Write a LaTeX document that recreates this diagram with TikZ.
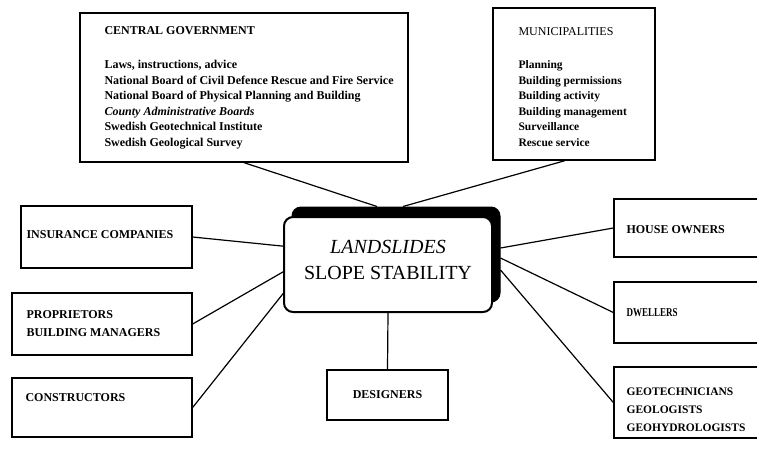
\documentclass[tikz,border=0pt]{standalone}
\usepackage{fontspec}
\setmainfont{Liberation Serif}
\begin{document}
\begin{tikzpicture}[x=1pt,y=-1pt,
  box/.style={draw, line width=1.3pt, rectangle, inner sep=0pt},
  conn/.style={line width=1.2pt},
  lbl/.style={font=\fontsize{12}{18}\selectfont\bfseries, align=left, anchor=west, inner sep=0pt},
  lst/.style={font=\fontsize{11.5}{15.5}\selectfont\bfseries, align=left, anchor=west, inner sep=0pt}]
\useasboundingbox (0,0) rectangle (757,448);
\begin{scope}
\clip (0,0) rectangle (757,448);
% boxes
\node[box, minimum width=328pt, minimum height=149pt] (cg) at (244,87.5) {};
\node[box, minimum width=162pt, minimum height=152pt] (muni) at (574,84) {};
\node[box, minimum width=171pt, minimum height=62pt] (ins) at (106.5,237) {};
\node[box, minimum width=180pt, minimum height=62pt] (prop) at (102,324) {};
\node[box, minimum width=180pt, minimum height=59pt] (cons) at (102,407.5) {};
\node[box, minimum width=121pt, minimum height=50pt, font=\fontsize{12}{14}\selectfont\bfseries] (des) at (387.5,395) {DESIGNERS};
\node[box, minimum width=176pt, minimum height=58pt] (ho) at (702,228) {};
\node[box, minimum width=176pt, minimum height=61pt] (dw) at (702,312.5) {};
\node[box, minimum width=176pt, minimum height=71pt] (geo) at (702,402.5) {};
\node[draw, fill=black, line width=1pt, rounded corners=9pt, minimum width=208pt, minimum height=95pt, inner sep=0pt] (censh) at (396,254.5) {};
% connectors
\draw[conn] (cg.south) -- ([xshift=-19pt]censh.north);
\draw[conn] ([xshift=-9pt]muni.south) -- ([xshift=7pt]censh.north);
\draw[conn] (ins.east) -- ([yshift=7.5pt]censh.west);
\draw[conn] (prop.east) -- ([yshift=-12.5pt]censh.west);
\draw[conn] (cons.east) -- ([yshift=-28.5pt]censh.west);
\draw[conn] ([yshift=6.5pt]censh.east) -- (ho.west);
\draw[conn] ([yshift=-3.5pt]censh.east) -- (dw.west);
\draw[conn] ([yshift=-15.5pt]censh.east) -- (geo.west);
% central box
\node[draw, fill=white, line width=2pt, rounded corners=9pt, minimum width=208pt, minimum height=95pt, inner sep=0pt] (cen) at (388,264.5) {};
\draw[conn] (cen.south) -- (des.north);
% texts
\node[lst, font=\fontsize{12}{15.5}\selectfont\bfseries] (cgtext) at ([xshift=25pt]cg.west) {CENTRAL GOVERNMENT\\[19pt]
Laws, instructions, advice\\
National Board of Civil Defence Rescue and Fire Service\\
National Board of Physical Planning and Building\\
\textit{County Administrative Boards}\\
Swedish Geotechnical Institute\\
Swedish Geological Survey};
\node[lst] (munitext) at ([xshift=26pt,yshift=-3pt]muni.west) {{\fontsize{12}{15.5}\selectfont\mdseries MUNICIPALITIES}\\[17.5pt]
Planning\\
Building permissions\\
Building activity\\
Building management\\
Surveillance\\
Rescue service};
\node[lbl] (instext) at ([xshift=6pt,yshift=2pt]ins.west) {INSURANCE COMPANIES};
\node[lbl] (proptext) at ([xshift=15pt]prop.west) {PROPRIETORS\\BUILDING MANAGERS};
\node[lbl] (constext) at ([xshift=14pt,yshift=9.5pt]cons.west) {CONSTRUCTORS};
\node[lbl] (hotext) at ([xshift=13pt,yshift=-2pt]ho.west) {HOUSE OWNERS};
\node[lbl] (dwtext) at ([xshift=13pt]dw.west) {\scalebox{0.75}[1]{DWELLERS}};
\node[lbl, font=\fontsize{11.5}{18}\selectfont\bfseries] (geotext) at ([xshift=13pt,yshift=-7.5pt]geo.west) {GEOTECHNICIANS\\GEOLOGISTS\\GEOHYDROLOGISTS};
\node[font=\fontsize{20}{26}\selectfont, align=center, inner sep=0pt] (centext) at ([yshift=4.5pt]cen.center) {\textit{LANDSLIDES}\\SLOPE STABILITY};
\end{scope}
\end{tikzpicture}
\end{document}
